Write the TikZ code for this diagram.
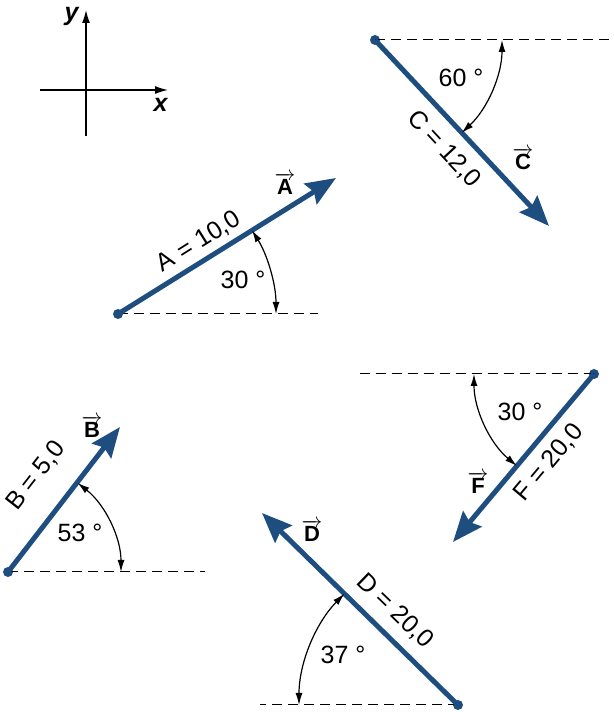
\documentclass[tikz,border=0pt]{standalone}
\usepackage{fontspec}
\setmainfont{Liberation Sans}
\usepackage{tikz}
\usetikzlibrary{arrows.meta, positioning, calc}
\definecolor{vecblue}{RGB}{30,78,128}
\newcommand{\vlet}[1]{$\overrightarrow{\textbf{#1}}$}
\tikzset{
  vecarrow/.style={-{Stealth[length=30pt,width=24pt,inset=4pt]}, line width=5pt, color=vecblue},
  tailpt/.style={circle, fill=vecblue, inner sep=0pt, minimum size=10pt},
  dashline/.style={dash pattern=on 10pt off 6pt, line width=1pt},
  angarrow/.style={{Latex[length=12pt,width=7pt]}-{Latex[length=12pt,width=7pt]}, line width=1.2pt},
  axis/.style={-{Latex[length=13pt,width=8pt]}, line width=1.3pt},
  lbl/.style={font=\fontsize{25}{29}\selectfont, inner sep=1pt},
  vlbl/.style={font=\fontsize{22}{26}\selectfont\bfseries, inner sep=1pt}
}
\begin{document}
\begin{tikzpicture}[x=1pt, y=1pt]
  \useasboundingbox (0,0) rectangle (613,712);
  % axes
  \coordinate (ybot) at (86,576);
  \coordinate (ytop) at (86,702);
  \coordinate (xleft) at (40,622);
  \coordinate (xright) at (168,622);
  \draw[axis] (ybot) -- (ytop);
  \draw[axis] (xleft) -- (xright);
  \node[lbl] (ylab) at (72,696) {\textbf{\textit{y}}};
  \node[lbl] (xlab) at (161,607) {\textbf{\textit{x}}};

  % vector A
  \node[tailpt] (Atail) at (118,398) {};
  \coordinate (Ahead) at (336,534);
  \coordinate (Aend) at (318,398);
  \draw[dashline] (Atail.center) -- (Aend);
  \draw[vecarrow] (Atail.center) -- (Ahead);
  \draw[angarrow] ($(Atail.center)+(158,0)$) arc[start angle=0, end angle=32, radius=158];
  \node[lbl] (Aang) at (243,432) {30 °};
  \node[lbl, rotate=32] (Amag) at (199,470) {A = 10,0};
  \node[vlbl] (Avec) at (285,528) {\vlet{A}};

  % vector B
  \node[tailpt] (Btail) at (8,140) {};
  \coordinate (Bhead) at (120,285);
  \coordinate (Bend) at (205,140);
  \draw[dashline] (Btail.center) -- (Bend);
  \draw[vecarrow] (Btail.center) -- (Bhead);
  \draw[angarrow] ($(Btail.center)+(113,0)$) arc[start angle=0, end angle=52, radius=113];
  \node[lbl] (Bang) at (80,179) {53 °};
  \node[lbl, rotate=52] (Bmag) at (36,236) {B = 5,0};
  \node[vlbl] (Bvec) at (92,285) {\vlet{B}};

  % vector C
  \node[tailpt] (Ctail) at (375,672) {};
  \coordinate (Chead) at (549,486);
  \coordinate (Cend) at (612,672);
  \draw[dashline] (Ctail.center) -- (Cend);
  \draw[vecarrow] (Ctail.center) -- (Chead);
  \draw[angarrow] ($(Ctail.center)+(127,0)$) arc[start angle=0, end angle=-47, radius=127];
  \node[lbl] (Cang) at (461,634) {60 °};
  \node[lbl, rotate=-47] (Cmag) at (444,563) {C = 12,0};
  \node[vlbl] (Cvec) at (523,553) {\vlet{C}};

  % vector D
  \node[tailpt] (Dtail) at (458,7) {};
  \coordinate (Dhead) at (262,199);
  \coordinate (Dend) at (260,7);
  \draw[dashline] (Dtail.center) -- (Dend);
  \draw[vecarrow] (Dtail.center) -- (Dhead);
  \draw[angarrow] ($(Dtail.center)+(-159,0)$) arc[start angle=180, end angle=135.6, radius=159];
  \node[lbl] (Dang) at (343,57) {37 °};
  \node[lbl, rotate=-44] (Dmag) at (395,101) {D = 20,0};
  \node[vlbl] (Dvec) at (312,181) {\vlet{D}};

  % vector F
  \node[tailpt] (Ftail) at (594,338) {};
  \coordinate (Fhead) at (453,170);
  \coordinate (Fend) at (355,338);
  \draw[dashline] (Ftail.center) -- (Fend);
  \draw[vecarrow] (Ftail.center) -- (Fhead);
  \draw[angarrow] ($(Ftail.center)+(-120,0)$) arc[start angle=180, end angle=230, radius=120];
  \node[lbl] (Fang) at (520,300) {30 °};
  \node[lbl, rotate=50] (Fmag) at (549,249) {F = 20,0};
  \node[vlbl] (Fvec) at (478,229) {\vlet{F}};
\end{tikzpicture}
\end{document}
